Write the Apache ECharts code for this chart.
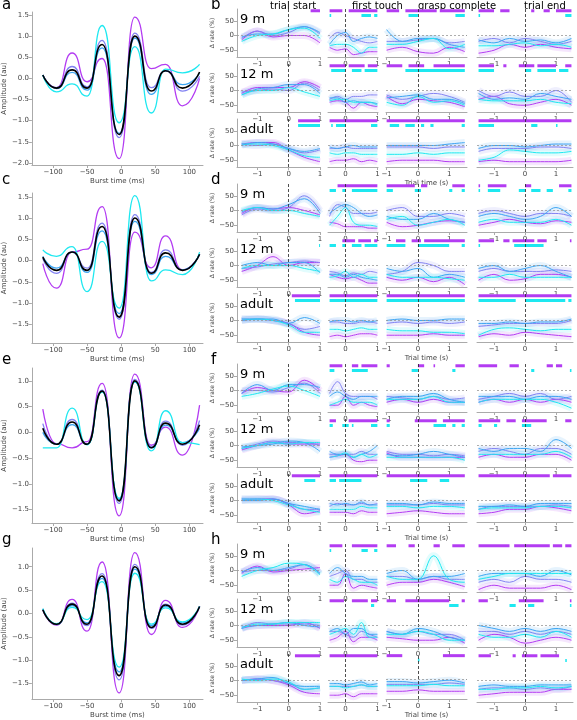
<!DOCTYPE html>
<html><head><meta charset="utf-8">
<script src="https://cdn.jsdelivr.net/npm/echarts@6/dist/echarts.min.js"></script>
<style>html,body{margin:0;padding:0;background:#fff}#c{width:577px;height:720px}</style>
</head><body><div id="c"></div>
<script>
// ---- waveform data (extrema times, ms) ----
const burstT = [-115,-95,-72,-50,-28,-3,20,44,65,90,115];
// order: purple, violet, lightblue, cyan, black
const wave_a = [
 [0.08,-0.22,0.6,-0.08,0.47,-1.9,1.45,0.23,0.33,-0.65,0.0],
 [0.08,-0.22,0.28,-0.2,0.9,-1.4,1.07,-0.22,0.18,-0.3,0.05],
 [0.08,-0.24,0.14,-0.28,0.72,-1.3,0.95,-0.38,0.18,-0.15,0.12],
 [0.08,-0.32,-0.13,-0.42,1.25,-1.05,0.75,-0.82,0.22,0.13,0.33],
 [0.08,-0.23,0.2,-0.23,0.8,-1.33,1.0,-0.3,0.18,-0.23,0.15]];
const wave_c = [
 [-0.07,-0.65,0.2,0.27,1.27,-1.82,0.67,-0.17,0.58,-0.22,0.15],
 [0.05,-0.3,0.2,-0.18,0.88,-1.38,1.08,-0.28,0.25,-0.22,0.15],
 [0.1,-0.18,0.2,-0.28,0.7,-1.25,0.92,-0.33,0.1,-0.22,0.15],
 [0.25,0.1,0.33,-0.73,0.45,-1.12,1.53,-0.48,-0.22,-0.33,0.2],
 [0.08,-0.23,0.2,-0.23,0.8,-1.33,1.0,-0.3,0.18,-0.23,0.15]];
const wave_e = [
 [0.45,-0.22,-0.3,-0.18,0.95,-1.62,1.13,-0.25,0.1,-0.44,0.53],
 [0.17,-0.23,0.25,-0.23,0.82,-1.38,1.03,-0.28,0.22,-0.25,0.23],
 [0.0,-0.23,0.15,-0.23,0.8,-1.3,0.98,-0.3,0.14,-0.2,0.08],
 [-0.3,-0.3,0.47,-0.24,0.78,-1.28,0.98,-0.36,0.42,-0.2,-0.24],
 [0.08,-0.23,0.2,-0.23,0.8,-1.33,1.0,-0.3,0.18,-0.23,0.15]];
const wave_g = [
 [0.08,-0.25,0.3,-0.38,1.1,-1.7,1.3,-0.45,0.28,-0.3,0.15],
 [0.08,-0.24,0.22,-0.26,0.85,-1.42,1.05,-0.32,0.2,-0.25,0.15],
 [0.1,-0.23,0.17,-0.2,0.75,-1.25,0.95,-0.26,0.15,-0.2,0.15],
 [0.1,-0.22,0.13,-0.13,0.68,-1.15,0.86,-0.23,0.12,-0.18,0.15],
 [0.08,-0.23,0.2,-0.23,0.8,-1.33,1.0,-0.3,0.18,-0.23,0.15]];

// ---- rate data: epochs start/touch/grasp/end; each [P,V,L,C] ----
const tStart=[-1.5,-1,-0.5,0,0.5,1], tTouch=[-0.5,-0.25,0,0.25,0.5,0.75,1],
      tGrasp=[-1,-0.5,0,0.5,1,1.5], tEnd=[-1.5,-1,-0.5,0,0.5,1,1.5];
const epochNames=["trial start","first touch","grasp complete","trial end"];
const ageNames=["9 m","12 m","adult"];

const rate_b_9m=[
 [[-15,15,-5,0,0,-25],[-10,15,0,10,30,5],[-5,5,5,20,30,10],[-20,0,5,20,25,-10]],
 [[-40,-50,-45,-65,-60,-55,-55],[-10,10,0,-10,-20,-25,-20],[-30,0,10,-20,-10,-5,-10],[-35,-30,-30,-40,-60,-40,-40]],
 [[-50,-40,-55,-60,-40,-55],[-20,-20,-15,-10,-25,-20],[20,-20,-10,-10,-30,-40],[-30,-30,-20,-10,-45,-30]],
 [[-60,-50,-30,-40,-30,-40,-45],[-20,-10,-25,-10,-20,-30,-20],[-15,-25,-10,-20,-15,-25,-10],[-35,-35,-30,-25,-35,-30,-40]]];
const rate_b_12m=[
 [[-10,10,10,10,30,10],[-5,0,5,0,25,0],[-15,5,10,20,20,-10],[-15,0,0,10,-5,-20]],
 [[-40,-35,-40,-60,-40,-50,-55],[-30,-20,-30,-20,-20,-15,-15],[-25,-25,-40,-35,-40,-40,-45],[-35,-30,-30,-40,-40,-40,-50]],
 [[-20,-45,-30,-35,-40,-55],[-15,-30,-20,-10,-20,-40],[-25,-20,-15,-30,-30,-45],[-40,-50,-20,-40,-35,-50]],
 [[-30,-20,-45,-50,-40,-30,-50],[0,-20,-5,-20,-20,0,-40],[-10,-30,-25,-30,-10,-20,-30],[-30,-35,-35,-35,-30,-40,-45]]];
const rate_b_adult=[
 [[5,10,10,-15,-40,-55],[5,0,5,-10,-25,-15],[0,10,5,-10,-20,-10],[5,5,0,-15,-35,-40]],
 [[-55,-50,-50,-45,-55,-50,-55],[-10,-10,-5,-10,-10,-10,-10],[-5,-10,-5,0,-5,-5,-5],[-25,-30,-25,-25,-30,-30,-30]],
 [[-55,-50,-50,-50,-55,-55],[-5,-5,-5,-10,-5,-5],[0,0,0,0,5,10],[-30,-30,-25,-30,-25,-25]],
 [[-55,-50,-55,-55,-55,-55,-50],[-20,-10,-10,-10,-5,-5,-10],[-10,0,0,-5,0,5,5],[-50,-40,-15,-20,-25,-25,-20]]];
const rate_d_9m=[
 [[-10,10,5,10,0,-15],[-15,5,0,10,50,0],[-5,10,5,20,40,-10],[0,10,0,0,-10,-20]],
 [[-40,-45,-55,-55,-55,-60,-60],[-20,20,10,-10,-10,-10,-5],[-10,10,20,10,-10,-20,-15],[-50,-20,10,-40,-50,-50,-55]],
 [[-40,-55,-50,-40,-35,-40],[0,10,-20,-20,-10,-20],[-20,-30,-30,-10,-30,-40],[-30,-20,-50,-40,-30,-50]],
 [[-50,-40,-30,-40,-45,-35,-40],[-10,0,-10,-20,-10,-10,-20],[-20,-10,-20,-30,-20,10,-20],[-40,-30,-40,-40,-40,-30,-50]]];
const rate_d_12m=[
 [[-20,0,30,0,10,10],[-10,-5,5,10,15,10],[0,10,0,10,10,-25],[-10,0,0,0,-10,-20]],
 [[-30,-40,-45,-40,-50,-60,-60],[-20,-25,-35,-25,-30,-20,-25],[-30,-30,-40,-30,-40,-45,-50],[-40,-35,-20,-40,-30,-40,-40]],
 [[-40,-50,-40,-55,-40,-65],[-30,-20,10,0,-20,-20],[-10,-20,-10,-40,-30,-40],[-30,-40,-40,-40,-45,-50]],
 [[-50,-30,-50,-45,-30,-30,-40],[-20,-10,-20,-20,-20,-15,-20],[-10,0,-20,-10,0,-20,-40],[-40,-40,-30,-40,-40,-40,-40]]];
const rate_d_adult=[
 [[5,5,0,-10,-40,-50],[0,5,0,-10,-30,-20],[0,5,5,-10,10,-10],[5,5,0,-15,-40,-40]],
 [[-55,-50,-55,-50,-45,-45,-50],[-5,-5,-10,-10,-5,-5,-10],[-5,0,0,-5,0,-5,0],[-30,-30,-35,-30,-25,-30,-30]],
 [[-50,-50,-50,-45,-50,-50],[-10,-5,-10,-5,-10,-5],[0,5,0,0,5,5],[-30,-35,-35,-40,-40,-45]],
 [[-55,-45,-50,-40,-45,-50,-55],[-20,-15,-10,-10,-10,-10,0],[-10,-10,-5,-10,-5,-5,5],[-50,-30,-25,-30,-35,-30,-30]]];
const rate_f_9m=[
 [[-10,10,0,-5,35,0],[0,0,-5,10,25,-10],[-10,20,0,20,20,10],[-20,-10,5,15,0,-20]],
 [[-50,-50,-20,-50,-40,-50,-55],[-10,30,-10,-20,-20,-20,-30],[-20,-5,-20,-30,-20,-20,-20],[-50,-40,-30,-40,-40,-40,-50]],
 [[-40,-30,-40,-30,-40,-40],[-20,-25,-30,-20,-30,-25],[-30,-20,-20,-10,-30,-40],[-30,-30,-30,-20,-40,-40]],
 [[-40,-30,-40,-30,-40,-30,-40],[-30,-20,-10,-20,-10,-30,-20],[-20,-20,-20,-30,-20,-20,-30],[-40,-30,-30,-30,-30,-40,-60]]];
const rate_f_12m=[
 [[-15,0,10,5,5,5],[-10,5,15,10,10,0],[-5,0,5,15,10,-20],[-10,0,10,5,10,10]],
 [[-40,-35,-30,-50,-55,-50,-50],[-30,-30,-30,-30,-20,-30,-30],[-20,-30,-30,-40,-30,-20,0],[-40,-35,-25,-40,-30,-40,-30]],
 [[-25,-40,-40,-40,-40,-40],[-20,-30,-30,-35,-30,-35],[-30,-35,-30,-20,-30,-40],[-40,-40,-40,-40,-40,-50]],
 [[-40,-30,-40,-40,-30,-30,-50],[-20,-10,-20,-30,-10,-10,-30],[-10,-20,-10,-10,-20,20,-10],[-30,-30,-30,-30,-30,-20,-40]]];
const rate_f_adult=[
 [[5,5,5,-15,-45,-35],[0,5,5,-10,-30,-30],[0,0,5,-10,-20,-30],[5,5,0,-15,-30,-40]],
 [[-40,-40,-40,-45,-35,-40,-40],[-20,-10,-15,-15,-10,-15,-10],[-10,-15,-10,-15,-5,-15,-15],[-30,-30,-30,-30,-20,-25,-25]],
 [[-45,-40,-35,-40,-45,-45],[-15,-15,-15,-10,-15,-15],[-10,-10,-15,-5,-10,-10],[-20,-20,-25,-20,-20,-25]],
 [[-45,-40,-30,-30,-20,-25,-35],[-30,-20,-20,-20,-20,-15,-20],[-20,-20,-15,-20,-10,-10,-10],[-30,-25,-25,-25,-20,-20,-25]]];
const rate_h_9m=[
 [[-10,15,-5,0,5,10],[-5,0,0,5,20,-10],[-5,10,0,10,20,-10],[-20,0,10,25,20,-15]],
 [[-50,-50,-10,-60,-50,-55,-60],[-20,-10,0,-30,-30,-40,-40],[-10,10,-10,-20,-20,-30,-30],[-30,-40,-20,-30,-40,-40,-50]],
 [[-50,-40,-40,-30,-40,-55],[-20,-20,-30,-20,-30,-30],[-10,0,-30,-20,-20,-10],[-20,-30,-30,50,-30,-40]],
 [[-65,-50,-60,-60,-60,-50,-65],[-40,-30,-40,-20,-30,-30,-40],[-20,-10,-10,-10,-20,0,-15],[-30,-20,-10,-10,-10,-10,-10]]];
const rate_h_12m=[
 [[-10,0,0,0,10,-10],[-10,10,5,5,5,0],[-5,0,5,10,0,-5],[-10,5,5,10,10,10]],
 [[-50,-40,-20,-55,-40,-40,-50],[-20,-20,-30,-40,-20,-30,-40],[-20,-10,-30,-10,-10,-30,-30],[-30,-20,-10,-30,10,-40,-40]],
 [[-40,-45,-50,-50,-40,-60],[-20,-30,-20,-30,-30,-50],[-20,-30,-10,-20,-40,-50],[-30,-30,-20,-30,-50,-50]],
 [[-50,-30,-40,-60,-50,-40,-50],[-20,-20,-30,-20,-30,-20,-30],[0,-10,-20,-10,-20,-10,-20],[-30,-40,-40,-30,-40,-20,-40]]];
const rate_h_adult=[
 [[0,5,0,-15,-40,-45],[0,5,0,-10,-30,-25],[0,5,10,-10,-20,-20],[5,0,5,-5,-30,-25]],
 [[-50,-50,-45,-55,-45,-45,-45],[-20,-20,-20,-20,-15,-20,-20],[-10,-10,-15,-10,-5,-15,-10],[-20,-20,-25,-20,-15,-20,-20]],
 [[-45,-45,-40,-45,-45,-45],[-20,-20,-20,-20,-15,-20],[-10,-10,-15,-10,-5,-15],[-25,-25,-25,-20,-25,-25]],
 [[-50,-45,-40,-40,-40,-30,-30],[-30,-25,-25,-30,-25,-30,-20],[-20,-15,-20,-20,-15,-15,-15],[-30,-30,-25,-25,-20,-25,-20]]];

// ---- significance intervals (s): per epoch ----
const sigP_b=[[[[0.7,1]],[[-0.5,-0.1],[0.1,1]],[[-1,-0.6],[-0.4,0.6],[0.7,1.5]],[[-1.5,-1],[-0.8,-0.5],[0.2,0.3],[0.6,0.8],[1,1.5]]],
 [[],[[-0.5,0],[0.1,0.6],[0.7,1]],[[-1,-0.5],[-0.3,0.2],[0.5,1.5]],[[-1.5,-1],[-0.7,-0.6],[-0.2,0.3],[0.4,1],[1.3,1.5]]],
 [[[0.3,1]],[[-0.5,1]],[[-1,1.5]],[[-1.5,1.5]]]];
const sigC_b=[[[],[[-0.5,-0.45],[0.5,0.8],[0.9,1]],[[-0.3,0],[1.2,1.5]],[[-1.5,-1.45],[1.3,1.5]]],
 [[],[[-0.45,0],[0.2,0.5],[0.6,1]],[[-0.4,0.2],[0.1,1.5]],[[-1.5,-1],[0,0.2],[0.4,1],[1.1,1.4]]],
 [[[0.3,1]],[[-0.45,-0.4],[-0.3,0],[0.8,1]],[[-0.9,-0.6],[-0.4,-0.1],[0.1,0.2],[0.4,0.5],[1.4,1.5]],[[-1.5,-1],[0.2,0.4],[1,1.05]]]];
const sigP_d=[[[],[[-0.25,1]],[[-1,-0.1],[0.1,0.3],[1.1,1.5]],[[-1.5,-1.45],[-1.2,-0.6],[0,0.2],[1.1,1.5]]],
 [[],[[-0.1,0.3],[0.4,0.8],[0.9,1]],[[-0.7,-0.4],[-0.2,0.1],[0.2,1.5]],[[-1.5,-1],[-0.7,-0.5],[-0.4,0.3],[0.4,0.7],[1.45,1.5]]],
 [[[0.1,1]],[[-0.5,1]],[[-1,1.5]],[[-1.5,1.5]]]];
const sigC_d=[[[],[[-0.5,-0.3],[-0.1,0],[0.2,1]],[[-1,-0.8],[-0.1,0.1],[1,1.1],[1.4,1.5]],[[-1.5,-1.45],[-1.2,-0.8],[-0.2,0],[0.2,0.5],[0.7,0.9],[1.4,1.5]]],
 [[[0.97,1]],[[-0.5,-0.3],[-0.1,0],[0.2,0.5],[0.6,1]],[[-1,-0.4],[0,1.0],[1.4,1.5]],[[-1.5,-1.45],[-0.35,0.6]]],
 [[[0.2,1]],[[-0.5,1]],[[-1,1.5]],[[-1.5,-0.3],[0,1.3],[1.4,1.5]]]];
const sigP_f=[[[],[[-0.5,-0.1],[0.2,0.4],[0.5,1]],[[-1,-0.9],[0,0.2],[0.5,0.55],[1.2,1.5]],[[-1.5,-0.9],[-0.5,-0.2],[0.7,0.9],[1,1.2]]],
 [[],[[-0.5,-0.3],[0.1,1]],[[-1,-0.9],[-0.1,0.6],[0.8,1.5]],[[-1.5,-0.8],[-0.6,-0.3],[-0.1,0.7],[1.3,1.5]]],
 [[[0.1,1]],[[-0.5,1]],[[-1,1.5]],[[-1.5,0.8],[0.9,1.5]]]];
const sigC_f=[[[],[[-0.5,-0.35],[0.2,0.7]],[[-0.2,0],[1.1,1.2]],[[0.2,0.3],[1.45,1.5]]],
 [[],[[-0.5,-0.4],[-0.1,0.1],[0.2,0.25],[0.8,1]],[[-1,-0.9],[0.5,0.9],[1.1,1.2],[1.4,1.5]],[[-1.5,-1.4],[-1,-0.9],[-0.1,0.2]]],
 [[[0.5,0.85]],[[-0.5,-0.3],[-0.2,0.5]],[[-0.25,0.3],[0.7,1.0]],[]]];
const sigP_h=[[[],[[-0.5,-0.1],[0.2,1]],[[-1,-0.7],[-0.3,-0.1],[0.5,0.7],[1.1,1.5]],[[-1.5,-0.5],[-0.35,0.8],[0.9,1.2],[1.3,1.5]]],
 [[],[[-0.5,-0.05],[0.2,0.7],[0.8,1]],[[-1,-0.7],[-0.4,1.0],[1.4,1.5]],[[-1.5,-1.2],[-0.2,0.6],[1.45,1.5]]],
 [[[0.2,1]],[[-0.5,1]],[[-1,-0.5],[0.8,1.5]],[[-1.5,-1.1],[-0.4,-0.3],[-0.1,0.4],[0.5,1.1]]]];
const sigC_h=[[[],[[-0.5,-0.45],[0.5,0.7],[0.9,1]],[],[]],
 [[],[[0.8,0.9]],[[1,1.3]],[[-0.5,-0.3],[0.1,0.3],[1.45,1.5]]],
 [[],[],[[0,0.05]],[[1.3,1.35]]]];

const waveLetters=["a","c","e","g"], rateLetters=["b","d","f","h"];
const blockOff=[0,175,355,535];
const waves=[wave_a,wave_c,wave_e,wave_g];
const waveY=[[12,153,-2.05,1.57,[-2,-1.5,-1,-0.5,0,0.5,1,1.5]],
             [18,150,-1.94,1.59,[-1.5,-1,-0.5,0,0.5,1,1.5]],
             [13,155,-1.76,1.25,[-1.5,-1,-0.5,0,0.5,1]],
             [13,154,-1.83,1.4,[-1.5,-1,-0.5,0,0.5,1]]];
const rates=[[rate_b_9m,rate_b_12m,rate_b_adult],[rate_d_9m,rate_d_12m,rate_d_adult],
             [rate_f_9m,rate_f_12m,rate_f_adult],[rate_h_9m,rate_h_12m,rate_h_adult]];
const sigsP=[sigP_b,sigP_d,sigP_f,sigP_h], sigsC=[sigC_b,sigC_d,sigC_f,sigC_h];
const epochT=[tStart,tTouch,tGrasp,tEnd];
const epochX=[[237,83,-1.65,1.0,[-1,0,1]],[328,50,-0.55,1.02,[0,1]],[386,81,-1.02,1.57,[-1,0,1]],[477,96,-1.55,1.55,[-1,0,1]]];
const COL=['#b33cf2','#8282f2','#3ca5f2','#1ee8f0'];
const fmt=v=>String(v).replace('-','\u2212');

const grid=[],xAxis=[],yAxis=[],series=[],graphic=[];
const axisCol='#aaa', txt='#444';
function addGrid(l,t,w,h){grid.push({left:l,top:t,width:w,height:h});return grid.length-1;}

for(let k=0;k<4;k++){
  const o=blockOff[k];
  const wy=waveY[k];
  let gi=addGrid(27,o+wy[0],176,wy[1]);
  xAxis.push({type:'value',gridIndex:gi,min:-131,max:120,splitLine:{show:false},
    axisLine:{onZero:false,lineStyle:{color:axisCol}},axisTick:{customValues:[-100,-50,0,50,100],length:3,lineStyle:{color:axisCol}},
    axisLabel:{customValues:[-100,-50,0,50,100],fontSize:7,color:txt,margin:4,formatter:fmt},
    name:'Burst time (ms)',nameLocation:'middle',nameGap:13,nameTextStyle:{fontSize:7,color:txt}});
  yAxis.push({type:'value',gridIndex:gi,min:wy[2],max:wy[3],splitLine:{show:false},
    axisLine:{show:true,onZero:false,lineStyle:{color:axisCol}},axisTick:{show:true,customValues:wy[4],length:3,lineStyle:{color:axisCol}},
    axisLabel:{customValues:wy[4],fontSize:7,color:txt,margin:3,formatter:v=>fmt(v.toFixed(1))},
    name:'Amplitude (au)',nameLocation:'middle',nameGap:20,nameTextStyle:{fontSize:7,color:txt}});
  const wc=[COL[0],COL[1],COL[2],COL[3],'#000'];
  waves[k].forEach((arr,i)=>series.push({type:'line',xAxisIndex:gi,yAxisIndex:gi,smooth:0.6,smoothMonotone:'x',symbol:'none',
    data:burstT.map((t,j)=>[t,arr[j]]),lineStyle:{color:wc[i],width:i===4?1.6:1.3},z:i===4?5:2}));
  graphic.push({type:'text',left:2,top:o-2,style:{text:waveLetters[k],fontSize:15,fill:'#000',fontFamily:'DejaVu Sans'}});
  graphic.push({type:'text',left:211,top:o-2,style:{text:rateLetters[k],fontSize:15,fill:'#000',fontFamily:'DejaVu Sans'}});
  for(let a=0;a<3;a++){
    const top=o+9+a*55;
    for(let e=0;e<4;e++){
      const ex=epochX[e];
      gi=addGrid(ex[0],top,ex[1],48);
      xAxis.push({type:'value',gridIndex:gi,min:ex[2],max:ex[3],splitLine:{show:false},
        axisLine:{onZero:false,lineStyle:{color:axisCol}},axisTick:{customValues:ex[4],length:3,lineStyle:{color:axisCol}},
        axisLabel:{customValues:ex[4],fontSize:7,color:txt,margin:4,formatter:fmt},
        name:(a===2&&e===2)?'Trial time (s)':'',nameLocation:'middle',nameGap:13,nameTextStyle:{fontSize:7,color:txt}});
      yAxis.push({type:'value',gridIndex:gi,min:-73,max:90,splitLine:{show:false},
        axisLine:{show:e===0,onZero:false,lineStyle:{color:axisCol}},axisTick:{show:e===0,customValues:[-50,0,50],length:3,lineStyle:{color:axisCol}},
        axisLabel:{show:e===0,customValues:[-50,0,50],fontSize:7,color:txt,margin:3,formatter:fmt},
        name:e===0?'\u0394 rate (%)':'',nameLocation:'middle',nameGap:15,nameTextStyle:{fontSize:6,color:txt}});
      const d=rates[k][a][e], tx=epochT[e];
      d.forEach((arr,i)=>{
        const pts=tx.map((t,j)=>[t,arr[j]]);
        series.push({type:'line',xAxisIndex:gi,yAxisIndex:gi,smooth:0.4,symbol:'none',silent:true,data:pts,
          lineStyle:{color:COL[i],width:7,opacity:0.13},z:1});
        const s={type:'line',xAxisIndex:gi,yAxisIndex:gi,smooth:0.4,symbol:'none',data:pts,lineStyle:{color:COL[i],width:1},z:3};
        if(i===0)s.markLine={symbol:'none',silent:true,label:{show:false},animation:false,
          data:[{xAxis:0,lineStyle:{color:'#222',type:[3,2],width:0.8}},{yAxis:0,lineStyle:{color:'#999',type:[2,2],width:0.8}}]};
        series.push(s);
      });
      const bars=[];
      sigsP[k][a][e].forEach(iv=>bars.push([iv[0],iv[1],84,0]));
      sigsC[k][a][e].forEach(iv=>bars.push([iv[0],iv[1],68,1]));
      series.push({type:'custom',xAxisIndex:gi,yAxisIndex:gi,data:bars,silent:true,z:4,
        renderItem:(p,api)=>{const p0=api.coord([api.value(0),api.value(2)]),p1=api.coord([api.value(1),api.value(2)]);
          return {type:'rect',shape:{x:p0[0],y:p0[1]-1.5,width:Math.max(1,p1[0]-p0[0]),height:3},
            style:{fill:api.value(3)===0?COL[0]:COL[3]}};}});
      if(e===0) graphic.push({type:'text',left:240,top:top+4,style:{text:ageNames[a],fontSize:13,fill:'#000',fontFamily:'DejaVu Sans'}});
      if(k===0&&a===0){
        const cx=[270,352,418,524][e];
        graphic.push({type:'text',left:cx,top:1,style:{text:epochNames[e],fontSize:10,fill:'#000',align:'center',fontFamily:'DejaVu Sans'}});
      }
    }
  }
}
const chart=echarts.init(document.getElementById('c'),null,{renderer:'canvas'});
chart.setOption({animation:false,textStyle:{fontFamily:'DejaVu Sans'},grid,xAxis,yAxis,series,graphic});
</script></body></html>
